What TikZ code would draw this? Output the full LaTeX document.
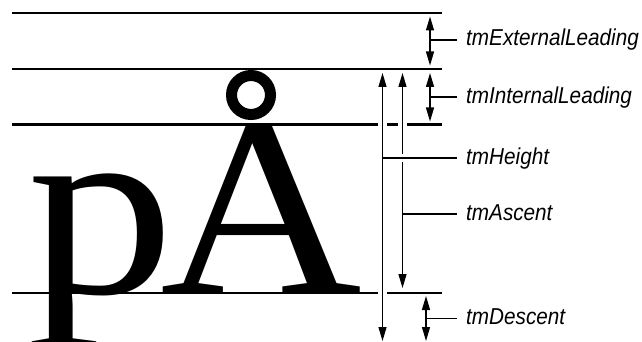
\documentclass[tikz,border=0pt]{standalone}
\usepackage{fontspec}
\setmainfont{Liberation Serif}
\newfontfamily\lblfont[FakeStretch=0.9]{Liberation Sans}
\usetikzlibrary{arrows.meta}

\tikzset{
  level/.style={line width=2.2pt},
  dim/.style={line width=1.3pt,{Triangle[length=14pt,width=8pt]}-{Triangle[length=14pt,width=8pt]}},
  cut/.style={preaction={draw=white,line width=8.5pt,arrows=-,shorten <=5pt,shorten >=5pt}},
  tick/.style={line width=1.2pt},
  glyph/.style={anchor=base west,inner sep=0pt,font=\fontsize{254}{254}\selectfont},
  lbl/.style={anchor=west,inner xsep=9pt,text height=17pt,text depth=5pt,
    font=\lblfont\itshape\fontsize{23}{23}\selectfont}
}

\begin{document}
\begin{tikzpicture}[x=1pt,y=-1pt]
\useasboundingbox (0,0) rectangle (642,342);
\node[glyph] (p) at (27.5,293) {\scalebox{1.16}[1]{p}};
\node[glyph] (a) at (160,293) {\scalebox{1.1}[1]{A}};
\draw[line width=11pt] (251,95) circle[radius=19.5];
\draw[level] (12,13.3) -- (442,13.3);
\draw[level] (12,69.3) -- (442,69.3);
\draw[level] (12,124.5) -- (442,124.5);
\draw[level] (12,292.7) -- (442,292.7);
\draw[dim] (430,16.5) -- (430,65.5);
\draw[dim] (430,73) -- (430,121.5);
\draw[dim,cut] (382.5,73) -- (382.5,341);
\draw[dim,cut] (402.5,73) -- (402.5,288);
\draw[dim] (426,296) -- (426,341);
\node[lbl] (ext) at (457,40) {tmExternalLeading};
\node[lbl] (int) at (457,97) {tmInternalLeading};
\node[lbl] (hgt) at (457,158) {tmHeight};
\node[lbl] (asc) at (457,214) {tmAscent};
\node[lbl] (dsc) at (457,318.5) {tmDescent};
\draw[tick] (430,40) -- (ext.west);
\draw[tick] (430,97) -- (int.west);
\draw[tick,cut] (382.5,158) -- (hgt.west);
\draw[tick] (402.5,214) -- (asc.west);
\draw[tick] (426,318.5) -- (dsc.west);
\end{tikzpicture}
\end{document}
